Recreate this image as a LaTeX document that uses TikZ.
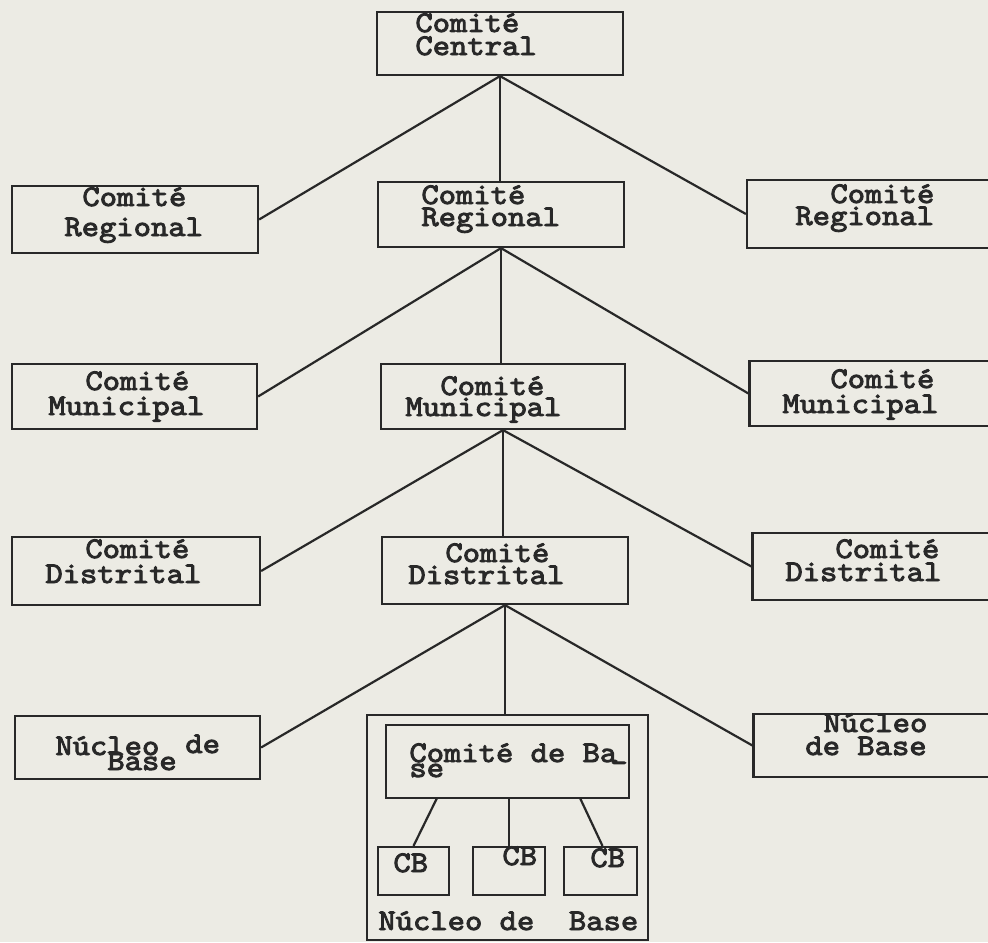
\documentclass[tikz,border=0pt]{standalone}
\usepackage{fontspec}
\newfontfamily\typew{lmmono10-regular.otf}[FakeStretch=1.1,FakeBold=3]
\definecolor{paper}{RGB}{236,235,228}
\definecolor{ink}{RGB}{40,40,40}
\tikzset{
  box/.style 2 args={draw=ink, line width=1.1pt, inner sep=0pt, minimum width=#1*0.5pt, minimum height=#2*0.5pt},
  txt/.style={anchor=base west, inner sep=0pt, text=ink, font=\typew\fontsize{15}{14}\selectfont},
  link/.style={draw=ink, line width=1.1pt}
}
\begin{document}
\begin{tikzpicture}[x=0.5pt,y=0.5pt,yscale=-1]
\fill[paper] (0,0) rectangle (988,942);
\useasboundingbox (0,0) rectangle (988,942);
\clip (0,0) rectangle (988,942);

%Shape: Rectangle [central]
\node[box={246}{63}] (central) at (500,43.5) {};
\node[txt] (central-a) at (415,32) {Comité};
\node[txt] (central-b) at (415,55) {Central};

%Shape: Rectangle [regional]
\node[box={246}{67}] (reg-l) at (135,219.5) {};
\node[box={246}{65}] (reg-c) at (501,214.5) {};
\node[box={246}{68}] (reg-r) at (870,214) {};
\node[txt] (reg-l-a) at (82,206) {Comité};
\node[txt] (reg-l-b) at (64,236) {Regional};
\node[txt] (reg-c-a) at (421,204) {Comité};
\node[txt] (reg-c-b) at (421,226) {Regional};
\node[txt] (reg-r-a) at (830,203) {Comité};
\node[txt] (reg-r-b) at (795,225) {Regional};

%Shape: Rectangle [municipal]
\node[box={245}{65}] (mun-l) at (134.5,396.5) {};
\node[box={244}{65}] (mun-c) at (503,396.5) {};
\node[box={245}{65}] (mun-r) at (872,393.5) {};
\node[txt] (mun-l-a) at (85,390) {Comité};
\node[txt] (mun-l-b) at (48,415) {Municipal};
\node[txt] (mun-c-a) at (440,395) {Comité};
\node[txt] (mun-c-b) at (405,416) {Municipal};
\node[txt] (mun-r-a) at (830,388) {Comité};
\node[txt] (mun-r-b) at (782,413) {Municipal};

%Shape: Rectangle [distrital]
\node[box={248}{68}] (dis-l) at (136,571) {};
\node[box={246}{67}] (dis-c) at (505,570.5) {};
\node[box={245}{67}] (dis-r) at (875,566.5) {};
\node[txt] (dis-l-a) at (85,558) {Comité};
\node[txt] (dis-l-b) at (45,583) {Distrital};
\node[txt] (dis-c-a) at (445,562) {Comité};
\node[txt] (dis-c-b) at (408,584) {Distrital};
\node[txt] (dis-r-a) at (835,558) {Comité};
\node[txt] (dis-r-b) at (785,581) {Distrital};

%Shape: Rectangle [nucleo]
\node[box={245}{63}] (nuc-l) at (137.5,747.5) {};
\node[box={245}{63}] (nuc-r) at (876,745.5) {};
\node[txt] (nuc-l-a) at (55,755) {Núcleo};
\node[txt] (nuc-l-b) at (107,770) {Base};
\node[txt] (nuc-l-c) at (185,753) {de};
\node[txt] (nuc-r-a) at (823,732) {Núcleo};
\node[txt] (nuc-r-b) at (805,755) {de Base};

%Shape: Rectangle [nucleo central]
\node[box={281}{225}] (outer) at (507.5,827.5) {};
\node[box={243}{73}] (inner) at (507.5,761.5) {};
\node[txt] (inner-a) at (409,762) {Comité de Ba};
\node[txt] (inner-b) at (409,777) {se};
\node[txt] (inner-c) at (610,772) {-};
\node[box={71}{48}] (cb1) at (413.5,871) {};
\node[box={72}{48}] (cb2) at (509,871) {};
\node[box={73}{48}] (cb3) at (600.5,871) {};
\node[txt] (cb1-t) at (393,872) {CB};
\node[txt] (cb2-t) at (502,865) {CB};
\node[txt] (cb3-t) at (590,867) {CB};
\node[txt] (outer-t) at (378,930) {Núcleo de~~Base};

%Straight Lines
\draw[link] (central.south) -- (reg-l.east);
\draw[link] (central.south) -- (central.south |- reg-c.north);
\draw[link] (central.south) -- (reg-r.west);
\draw[link] (reg-c.south) -- (mun-l.east);
\draw[link] (reg-c.south) -- (reg-c.south |- mun-c.north);
\draw[link] (reg-c.south) -- (mun-r.west);
\draw[link] (mun-c.south) -- (dis-l.east);
\draw[link] (mun-c.south) -- (mun-c.south |- dis-c.north);
\draw[link] (mun-c.south) -- (dis-r.west);
\draw[link] (dis-c.south) -- (nuc-l.east);
\draw[link] (dis-c.south) -- (dis-c.south |- outer.north);
\draw[link] (dis-c.south) -- (nuc-r.west);

\coordinate (cb-a) at (437,798);
\coordinate (cb-b) at (509,798);
\coordinate (cb-c) at (580,798);
\draw[link] (cb-a) -- (cb1.north);
\draw[link] (cb-b) -- (cb2.north);
\draw[link] (cb-c) -- ([xshift=1pt]cb3.north);
\end{tikzpicture}
\end{document}
